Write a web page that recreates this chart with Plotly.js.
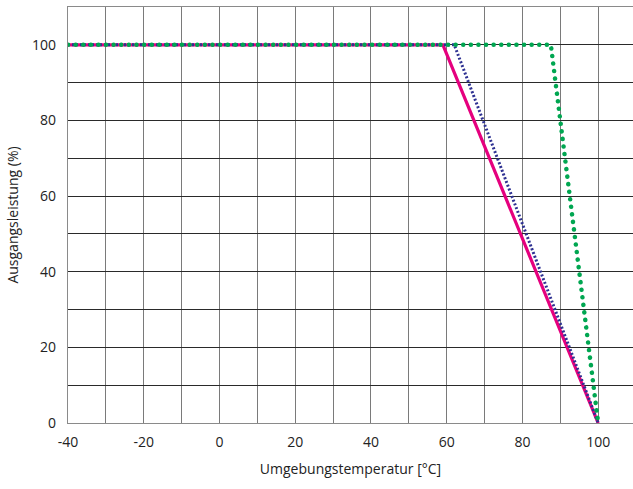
<!DOCTYPE html>
<html><head><meta charset="utf-8">
<script src="https://cdn.plot.ly/plotly-3.0.1.min.js"></script>
<style>
body{margin:0;background:#fff}
.scatterlayer .trace:nth-child(3) path.js-line{stroke-linecap:round}
</style>
</head><body>
<div id="chart" style="width:633px;height:489px"></div>
<script>
const pinkX = [-40, 59, 100];
const pinkY = [100, 100, 0];
const blueX = [-40, 62, 100];
const blueY = [100, 100, 0];
const greenX = [-40, 87.5, 100];
const greenY = [100, 100, 0];
const xTicks = [-40,-30,-20,-10,0,10,20,30,40,50,60,70,80,90,100];
const xLabels = ['-40','','-20','','0','','20','','40','','60','','80','','100'];
const yTicks = [0,10,20,30,40,50,60,70,80,90,100,110];
const yLabels = ['0','','20','','40','','60','','80','','100',''];

const traces = [
  {x: pinkX, y: pinkY, mode:'lines', line:{color:'#e5007e', width:3.2}, hoverinfo:'skip'},
  {x: blueX, y: blueY, mode:'lines', line:{color:'#2e3192', width:3, dash:'2px,2px'}, hoverinfo:'skip'},
  {x: greenX, y: greenY, mode:'lines', line:{color:'#00a651', width:4.5, dash:'0.1px,7.5px'}, hoverinfo:'skip'}
];
const font = {family:'"Open Sans", "Noto Sans", sans-serif', size:14, color:'#222'};
const layout = {
  width:633, height:489,
  margin:{l:68, r:0, t:7, b:66},
  paper_bgcolor:'#fff', plot_bgcolor:'#fff',
  showlegend:false,
  font: font,
  xaxis:{range:[-40,109.2], tickvals:xTicks, ticktext:xLabels, showgrid:true, gridcolor:'#7a7a7a', gridwidth:1,
    zeroline:false, showline:true, linecolor:'#8a8a8a', linewidth:1.2, mirror:true, ticks:'', ticklabelstandoff:6,
    title:{text:'Umgebungstemperatur [°C]', font:font, standoff:14}},
  yaxis:{range:[0,110], tickvals:yTicks, ticktext:yLabels, showgrid:true, gridcolor:'#2a2a2a', gridwidth:1,
    zeroline:false, showline:true, linecolor:'#8a8a8a', linewidth:1.2, mirror:true, ticks:'', ticklabelstandoff:8,
    title:{text:'Ausgangsleistung (%)', font:font, standoff:10}}
};
Plotly.newPlot('chart', traces, layout, {displayModeBar:false, staticPlot:true});
</script>
</body></html>
